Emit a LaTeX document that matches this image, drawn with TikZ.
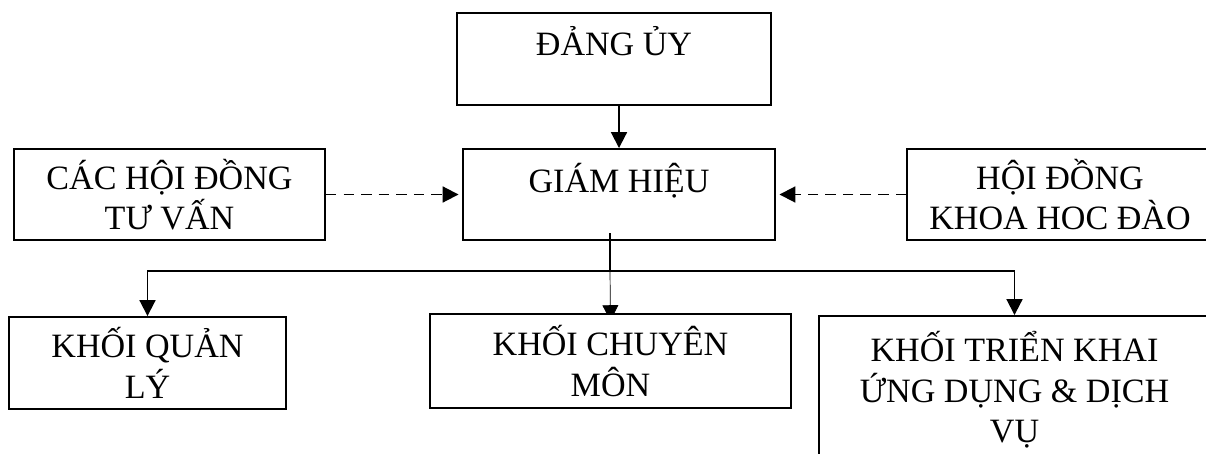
\documentclass[tikz,border=0pt]{standalone}
\usepackage{fontspec}
\setmainfont{Liberation Serif}
\usetikzlibrary{arrows.meta, backgrounds}

\begin{document}
\begin{tikzpicture}[x=0.02cm, y=-0.02cm, line width=1.1pt,
    box/.style={draw, fill=white, align=center, inner ysep=0pt,
      font=\fontsize{19.4}{23}\selectfont},
    link/.style={-{Triangle[length=9pt, width=9pt]}},
    dashlink/.style={link, dash pattern=on 6pt off 4pt, shorten >=2pt}]
  \useasboundingbox (0,0) rectangle (1206,453);
  \clip (0,0) rectangle (1206,453);

  % Top level
  \node[box, minimum width=6.28cm, minimum height=1.84cm,
    text height=0.84cm, text depth=1.0cm] (dangUy) at (614,59) {ĐẢNG ỦY};
  \node[box, minimum width=6.24cm, minimum height=1.82cm,
    text height=0.86cm, text depth=0.96cm] (giamHieu) at (619,194.5) {GIÁM HIỆU};

  % Councils on both sides
  \node[box, minimum width=6.22cm, minimum height=1.82cm] (hoiDongTV) at (169.5,194.5)
    {CÁC HỘI ĐỒNG\\TƯ VẤN};
  \node[box, minimum width=6.12cm, minimum height=1.82cm] (hoiDongKH) at (1060,194.5)
    {HỘI ĐỒNG\\KHOA HOC ĐÀO};

  % Bottom level
  \node[box, minimum width=5.54cm, minimum height=1.84cm] (khoiQL) at (147.5,363)
    {KHỐI QUẢN\\LÝ};
  \node[box, minimum width=7.22cm, minimum height=1.88cm] (khoiCM) at (610.5,361)
    {KHỐI CHUYÊN\\MÔN};
  \node[box, minimum width=7.82cm, minimum height=2.96cm] (khoiTK) at (1014.5,390)
    {KHỐI TRIỂN KHAI\\ỨNG DỤNG \& DỊCH\\VỤ};

  % Connectors
  \draw[link] (giamHieu.north |- dangUy.south) -- (giamHieu.north);
  \draw[dashlink] (hoiDongTV.east) -- (giamHieu.west);
  \draw[dashlink] (hoiDongKH.west) -- (giamHieu.east);

  \coordinate (branchTop) at (610,233);
  \coordinate (bus) at (610,271);
  \draw (branchTop) -- (bus);
  \draw[link] (bus) -| (khoiQL.north);
  \draw[link] (bus) -| (khoiTK.north);
  \begin{scope}[on background layer]
    \draw[link] (bus) -- ([yshift=-0.16cm]khoiCM.north);
  \end{scope}
\end{tikzpicture}
\end{document}
